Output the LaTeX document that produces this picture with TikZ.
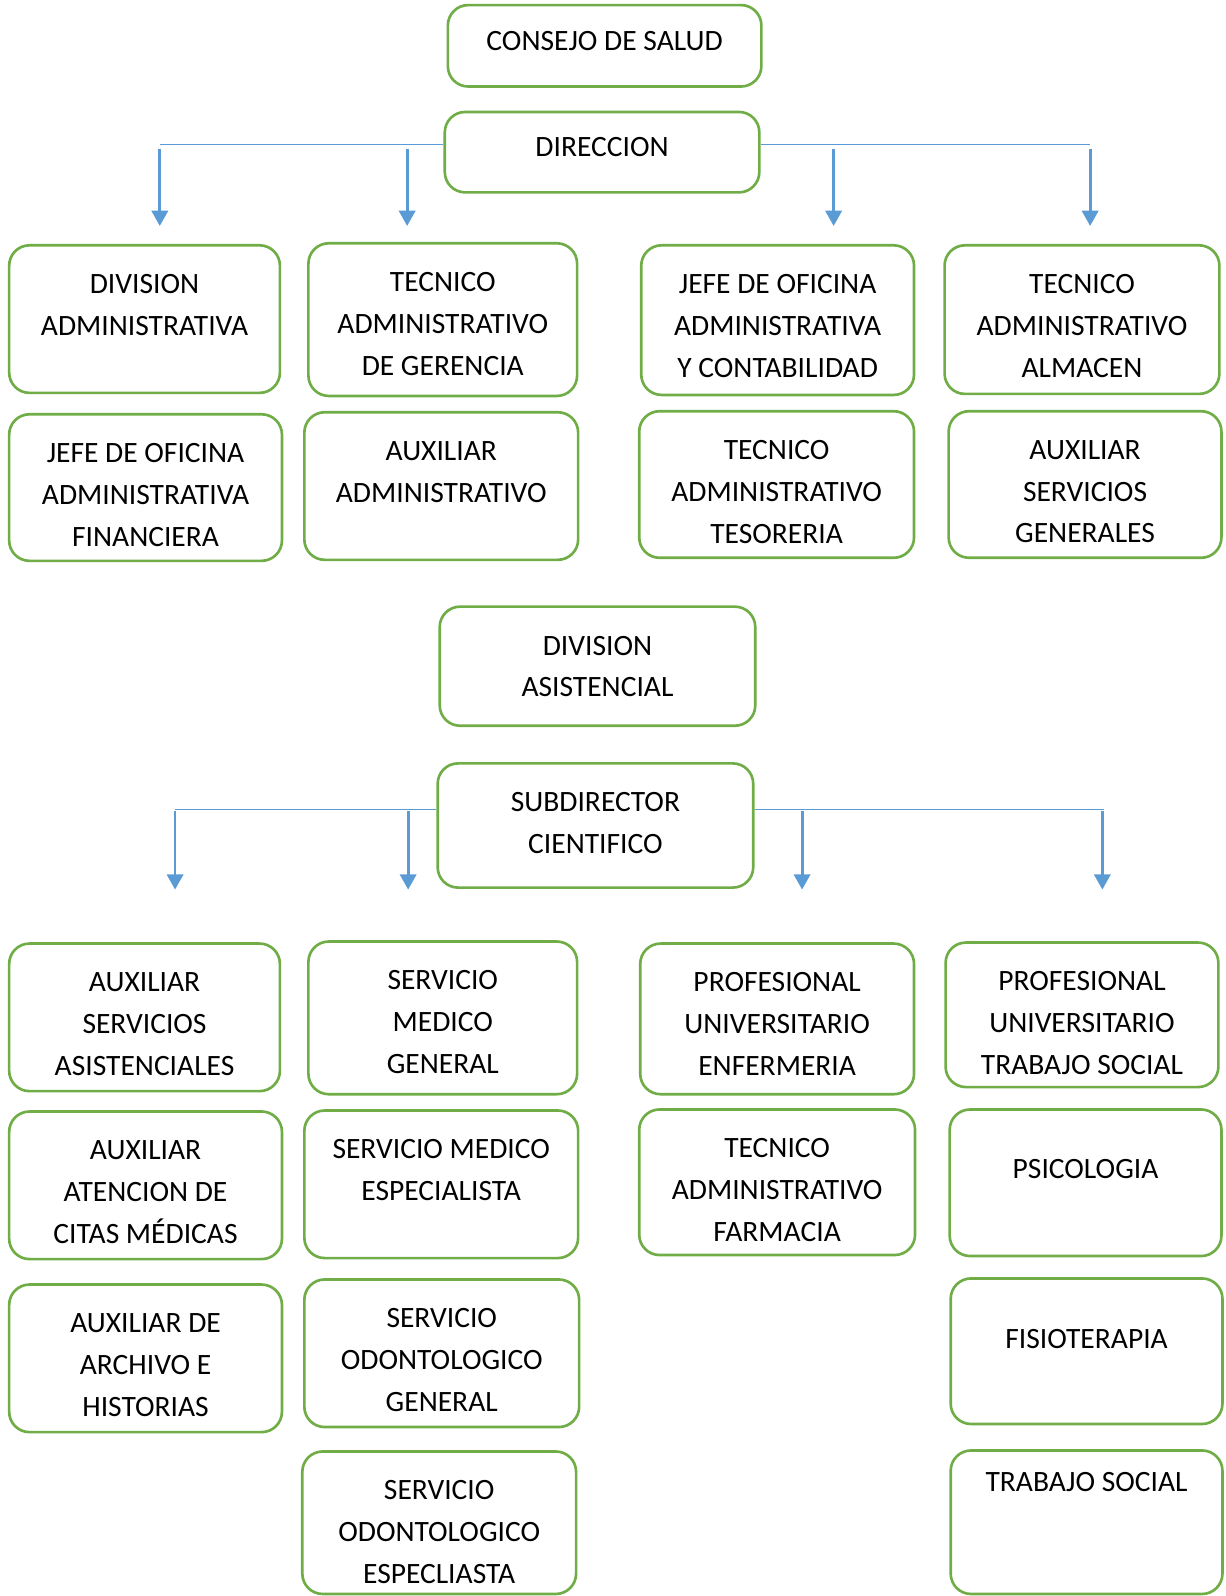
\documentclass[tikz,border=0pt]{standalone}
\usepackage{fontspec}
\setmainfont{Carlito}
\usetikzlibrary{arrows.meta,fit}
\definecolor{OrgGreen}{HTML}{70AD47}
\definecolor{OrgBlue}{HTML}{5B9BD5}

\begin{document}
\begin{tikzpicture}[x=0.5pt,y=-0.5pt,>={Triangle[width=8pt,length=7.5pt]}]
  \tikzstyle{box}=[draw=OrgGreen,line width=1.3pt,rounded corners=10pt,inner sep=0pt]
  \tikzstyle{txt}=[anchor=north,align=center,inner sep=0pt,yshift=-14.8pt,
    font=\fontsize{14.5}{20.5}\selectfont]
  \tikzstyle{link}=[draw=OrgBlue,line width=0.65pt]
  \tikzstyle{arr}=[->,draw=OrgBlue,line width=1.4pt]
  \useasboundingbox (0,0) rectangle (1204,1568);
  % direccion
  \node[box,fit={(440,5) (748,85)},label={[txt,yshift=1.5pt]north:{CONSEJO DE SALUD}}] (consejo) {};
  \node[box,fit={(437,110) (746,189)},label={[txt,yshift=2pt]north:{DIRECCION}}] (dir) {};
  \node[box,fit={(9,241) (275,386)},label={[txt]north:{DIVISION\\ADMINISTRATIVA}}] (divadm) {};
  \node[box,fit={(303,239) (567,389)},label={[txt]north:{TECNICO\\ADMINISTRATIVO\\DE GERENCIA}}] (tecger) {};
  \node[box,fit={(630,241) (898,388)},label={[txt]north:{JEFE DE OFICINA\\ADMINISTRATIVA\\Y CONTABILIDAD}}] (jefecont) {};
  \node[box,fit={(928,241) (1198,387)},label={[txt]north:{TECNICO\\ADMINISTRATIVO\\ALMACEN}}] (tecalm) {};
  \node[box,fit={(9,407) (277,551)},label={[txt]north:{JEFE DE OFICINA\\ADMINISTRATIVA\\FINANCIERA}}] (jefefin) {};
  \node[box,fit={(299,405) (568,550)},label={[txt]north:{AUXILIAR\\ADMINISTRATIVO}}] (auxadm) {};
  \node[box,fit={(628,404) (898,548)},label={[txt]north:{TECNICO\\ADMINISTRATIVO\\TESORERIA}}] (tectes) {};
  \node[box,fit={(932,404) (1200,548)},label={[txt]north:{AUXILIAR\\SERVICIOS\\GENERALES}}] (auxgen) {};
  % asistencial
  \node[box,fit={(432,596) (742,713)},label={[txt]north:{DIVISION\\ASISTENCIAL}}] (divasis) {};
  \node[box,fit={(430,750) (740,872)},label={[txt]north:{SUBDIRECTOR\\CIENTIFICO}}] (subdir) {};
  \node[box,fit={(9,927) (275,1072)},label={[txt]north:{AUXILIAR\\SERVICIOS\\ASISTENCIALES}}] (auxasis) {};
  \node[box,fit={(303,925) (567,1075)},label={[txt]north:{SERVICIO\\MEDICO\\GENERAL}}] (medgen) {};
  \node[box,fit={(629,927) (898,1075)},label={[txt]north:{PROFESIONAL\\UNIVERSITARIO\\ENFERMERIA}}] (enf) {};
  \node[box,fit={(929,926) (1197,1068)},label={[txt]north:{PROFESIONAL\\UNIVERSITARIO\\TRABAJO SOCIAL}}] (profts) {};
  \node[box,fit={(9,1092) (277,1237)},label={[txt]north:{AUXILIAR\\ATENCION DE\\CITAS MÉDICAS}}] (citas) {};
  \node[box,fit={(299,1091) (568,1236)},label={[txt]north:{SERVICIO MEDICO\\ESPECIALISTA}}] (medesp) {};
  \node[box,fit={(628,1090) (899,1233)},label={[txt]north:{TECNICO\\ADMINISTRATIVO\\FARMACIA}}] (farm) {};
  \node[box,fit={(933,1090) (1200,1234)},label={[txt,yshift=-10pt]north:{PSICOLOGIA}}] (psico) {};
  \node[box,fit={(9,1262) (277,1407)},label={[txt]north:{AUXILIAR DE\\ARCHIVO E\\HISTORIAS}}] (archivo) {};
  \node[box,fit={(299,1257) (569,1402)},label={[txt]north:{SERVICIO\\ODONTOLOGICO\\GENERAL}}] (odongen) {};
  \node[box,fit={(934,1256) (1201,1399)},label={[txt,yshift=-10.5pt]north:{FISIOTERAPIA}}] (fisio) {};
  \node[box,fit={(297,1426) (566,1566)},label={[txt]north:{SERVICIO\\ODONTOLOGICO\\ESPECLIASTA}}] (odonesp) {};
  \node[box,fit={(934,1425) (1201,1566)},label={[txt,yshift=3.5pt]north:{TRABAJO SOCIAL}}] (trabsoc) {};
  % ramas de direccion
  \coordinate (dl) at (157,142);
  \coordinate (dr) at (1071,142);
  \draw[link] (dl -| dir.west) -- (dl);
  \draw[link] (dr -| dir.east) -- (dr);
  \coordinate (d1) at (157,146); \coordinate (e1) at (157,222);
  \coordinate (d2) at (400,146); \coordinate (e2) at (400,222);
  \coordinate (d3) at (819,146); \coordinate (e3) at (819,222);
  \coordinate (d4) at (1071,146); \coordinate (e4) at (1071,222);
  \draw[arr] (d1)--(e1);
  \draw[arr] (d2)--(e2);
  \draw[arr] (d3)--(e3);
  \draw[arr] (d4)--(e4);
  % ramas del subdirector
  \coordinate (sl) at (172,795);
  \coordinate (sr) at (1085,795);
  \draw[link] (sl -| subdir.west) -- (sl);
  \draw[link] (sr -| subdir.east) -- (sr);
  \coordinate (s1) at (172,797); \coordinate (t1) at (172,874);
  \coordinate (s2) at (401,797); \coordinate (t2) at (401,874);
  \coordinate (s3) at (788,797); \coordinate (t3) at (788,874);
  \coordinate (s4) at (1083,797); \coordinate (t4) at (1083,874);
  \draw[arr] (s1)--(t1);
  \draw[arr] (s2)--(t2);
  \draw[arr] (s3)--(t3);
  \draw[arr] (s4)--(t4);
\end{tikzpicture}
\end{document}
